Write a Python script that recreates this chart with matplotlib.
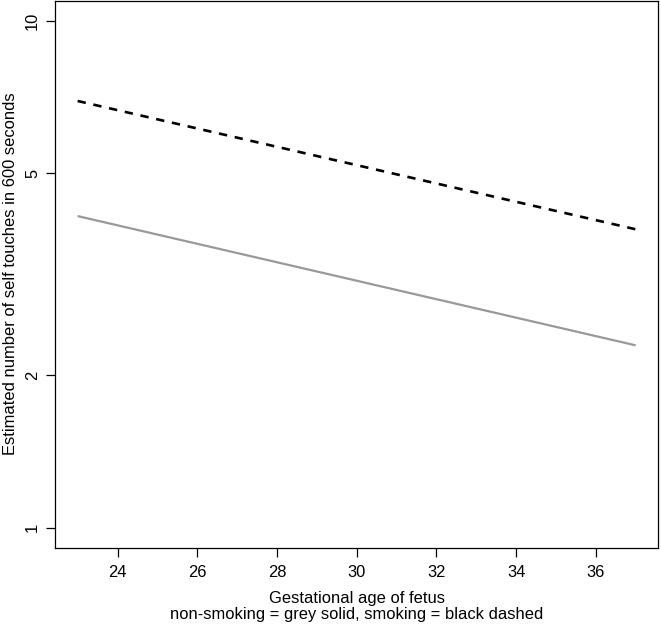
import numpy as np
import matplotlib.pyplot as plt

plt.rcParams['font.family'] = ['Liberation Sans', 'DejaVu Sans']
plt.rcParams['lines.scale_dashes'] = False

# fitted curves
age = [23, 37]
non_smoking = [4.12, 2.29]
smoking = [6.95, 3.88]

xticks = [24, 26, 28, 30, 32, 34, 36]
yticks = [1, 2, 5, 10]

fig = plt.figure(figsize=(6.61, 6.27), dpi=100)
ax = fig.add_axes([0.0837, 0.126, 0.9118, 0.873])

ax.plot(age, non_smoking, color='#999999', lw=1.6, solid_capstyle='butt')
ax.plot(age, smoking, color='black', lw=1.9, dashes=(6.0, 5.6), dash_capstyle='butt')

ax.set_yscale('log')
# R style 4% padding
lo, hi = np.log10(1), np.log10(10)
pad = (hi - lo) * 0.04
ax.set_ylim(10 ** (lo - pad), 10 ** (hi + pad))
xpad = (age[1] - age[0]) * 0.04
ax.set_xlim(age[0] - xpad, age[1] + xpad)

fs = 11.9
ax.set_xticks(xticks)
ax.set_xticklabels([str(t) for t in xticks])
ax.set_yticks(yticks)
ax.set_yticklabels([str(t) for t in yticks], rotation=90, va='center')
ax.yaxis.set_minor_locator(plt.NullLocator())
ax.xaxis.set_minor_locator(plt.NullLocator())

ax.tick_params(axis='both', length=6.5, width=0.9, labelsize=fs)
ax.tick_params(axis='x', pad=5.5)
ax.tick_params(axis='y', pad=4.5)
for s in ax.spines.values():
    s.set_linewidth(0.9)

fig.text(0.5 * (0.0837 + 0.9955), 1 - 599 / 627, 'Gestational age of fetus',
         ha='center', va='center', fontsize=fs)
fig.text(0.5 * (0.0837 + 0.9955), 1 - 615 / 627,
         'non-smoking = grey solid, smoking = black dashed',
         ha='center', va='center', fontsize=fs)
fig.text(11 / 661, 1 - 274 / 627, 'Estimated number of self touches in 600 seconds',
         ha='center', va='center', rotation=90, fontsize=fs)

fig.savefig('out.png', dpi=100)
